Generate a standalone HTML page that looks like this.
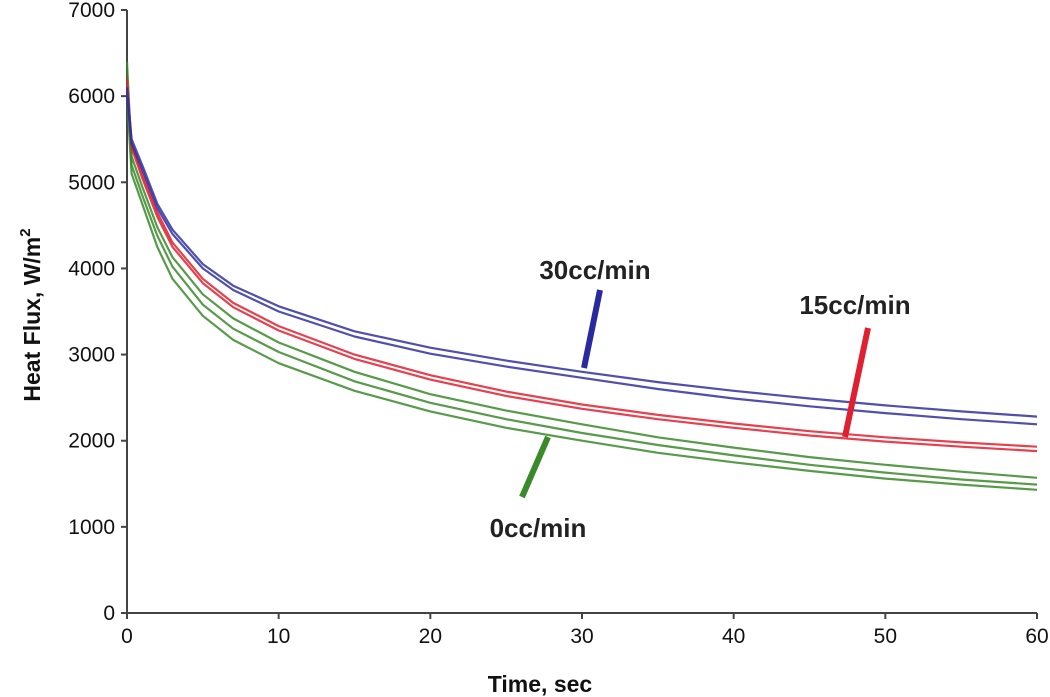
<!DOCTYPE html>
<html><head><meta charset="utf-8"><style>
body{margin:0;background:#fff;}
svg{display:block;font-family:"Liberation Sans",Arial,sans-serif;}
</style></head><body>
<svg id="chart" width="1050" height="697" viewBox="0 0 1050 697" xmlns="http://www.w3.org/2000/svg">
<g id="axes"></g><g id="series"></g><g id="annot"></g>
</svg>
<script>
const times = [0, 0.3, 1, 2, 3, 5, 7, 10, 15, 20, 25, 30, 35, 40, 45, 50, 55, 60];
const flux30a = [6100, 5500, 5200, 4750, 4450, 4050, 3800, 3560, 3270, 3080, 2930, 2800, 2680, 2580, 2490, 2410, 2340, 2280];
const flux30b = [6000, 5450, 5150, 4700, 4400, 4000, 3750, 3500, 3210, 3010, 2860, 2730, 2600, 2490, 2400, 2320, 2250, 2190];
const flux15a = [6200, 5450, 5100, 4650, 4300, 3880, 3600, 3330, 3000, 2760, 2570, 2420, 2300, 2200, 2110, 2040, 1980, 1930];
const flux15b = [6100, 5400, 5050, 4600, 4250, 3830, 3550, 3280, 2950, 2710, 2520, 2370, 2250, 2150, 2060, 1990, 1930, 1880];
const flux0a = [6400, 5300, 4950, 4480, 4130, 3700, 3420, 3140, 2800, 2540, 2350, 2190, 2040, 1920, 1810, 1720, 1640, 1570];
const flux0b = [6200, 5200, 4850, 4380, 4020, 3580, 3300, 3030, 2690, 2440, 2250, 2090, 1950, 1830, 1720, 1630, 1550, 1490];
const flux0c = [6000, 5100, 4750, 4250, 3880, 3450, 3170, 2900, 2580, 2340, 2150, 2000, 1860, 1750, 1650, 1560, 1490, 1430];
const xTicks = [0, 10, 20, 30, 40, 50, 60];
const yTicks = [0, 1000, 2000, 3000, 4000, 5000, 6000, 7000];

const NS = "http://www.w3.org/2000/svg";
const X0 = 127, X1 = 1037, Y0 = 613, Y1 = 10;
const xs = t => X0 + (t / 60) * (X1 - X0);
const ys = v => Y0 - (v / 7000) * (Y0 - Y1);
function mk(tag, attrs, parent, text) {
  const e = document.createElementNS(NS, tag);
  for (const k in attrs) e.setAttribute(k, attrs[k]);
  if (text !== undefined) e.textContent = text;
  parent.appendChild(e);
  return e;
}
const axes = document.getElementById('axes');
let a = mk('line', {x1: X0, y1: Y0, x2: X1, y2: Y0, stroke: '#444', 'stroke-width': 2}, axes);


a = mk('line', {x1: X0, y1: Y0, x2: X0, y2: Y1, stroke: '#444', 'stroke-width': 2}, axes);


xTicks.forEach(t => {
  mk('line', {x1: xs(t), y1: Y0, x2: xs(t), y2: Y0 + 6, stroke: '#444', 'stroke-width': 2}, axes);
  const l = mk('text', {x: xs(t), y: Y0 + 30, 'text-anchor': 'middle', 'font-size': 21, fill: '#111'}, axes, String(t));
  
  
});
yTicks.forEach(v => {
  mk('line', {x1: X0 - 6, y1: ys(v), x2: X0, y2: ys(v), stroke: '#444', 'stroke-width': 2}, axes);
  const l = mk('text', {x: X0 - 12, y: ys(v) + 7, 'text-anchor': 'end', 'font-size': 21, fill: '#111'}, axes, String(v));
  
  
});
let tt = mk('text', {x: 540, y: 692, 'text-anchor': 'middle', 'font-size': 23, 'font-weight': 'bold', fill: '#111'}, axes, 'Time, sec');


tt = mk('text', {x: 0, y: 0, transform: 'translate(40,315) rotate(-90)', 'text-anchor': 'middle', 'font-size': 23, 'font-weight': 'bold', fill: '#111'}, axes);


tt.appendChild(document.createTextNode('Heat Flux, W/m'));
mk('tspan', {dy: -10, 'font-size': 15}, tt, '2');

const series = document.getElementById('series');
function line(vals, color, name) {
  const d = vals.map((v, i) => (i ? 'L' : 'M') + xs(times[i]).toFixed(1) + ',' + ys(v).toFixed(1)).join(' ');
  const p = mk('path', {d: d, fill: 'none', stroke: color, 'stroke-width': 2.2, 'stroke-linejoin': 'round', opacity: 0.85}, series);
  
  
}
line(flux0a, '#3a8a2a', 'series-0cc-run1');
line(flux0b, '#3a8a2a', 'series-0cc-run2');
line(flux0c, '#3a8a2a', 'series-0cc-run3');
line(flux15a, '#e02030', 'series-15cc-run1');
line(flux15b, '#e02030', 'series-15cc-run2');
line(flux30a, '#3030a0', 'series-30cc-run1');
line(flux30b, '#3030a0', 'series-30cc-run2');

const an = document.getElementById('annot');
function label(x, y, txt, name) {
  const t = mk('text', {x: x, y: y, 'text-anchor': 'middle', 'font-size': 26, 'font-weight': 'bold', fill: '#222'}, an, txt);
  
  
}
function pointer(x1, y1, x2, y2, c, name) {
  const l = mk('line', {x1: x1, y1: y1, x2: x2, y2: y2, stroke: c, 'stroke-width': 6}, an);
  
  
}
label(595, 279, '30cc/min', 'label-30cc');
label(855, 314, '15cc/min', 'label-15cc');
label(538, 537, '0cc/min', 'label-0cc');
pointer(600, 290, 584, 368, '#2a2aa0', 'pointer-30cc');
pointer(868, 328, 845, 437, '#e02030', 'pointer-15cc');
pointer(548, 437, 522, 497, '#3a8a2a', 'pointer-0cc');
</script>
</body></html>
